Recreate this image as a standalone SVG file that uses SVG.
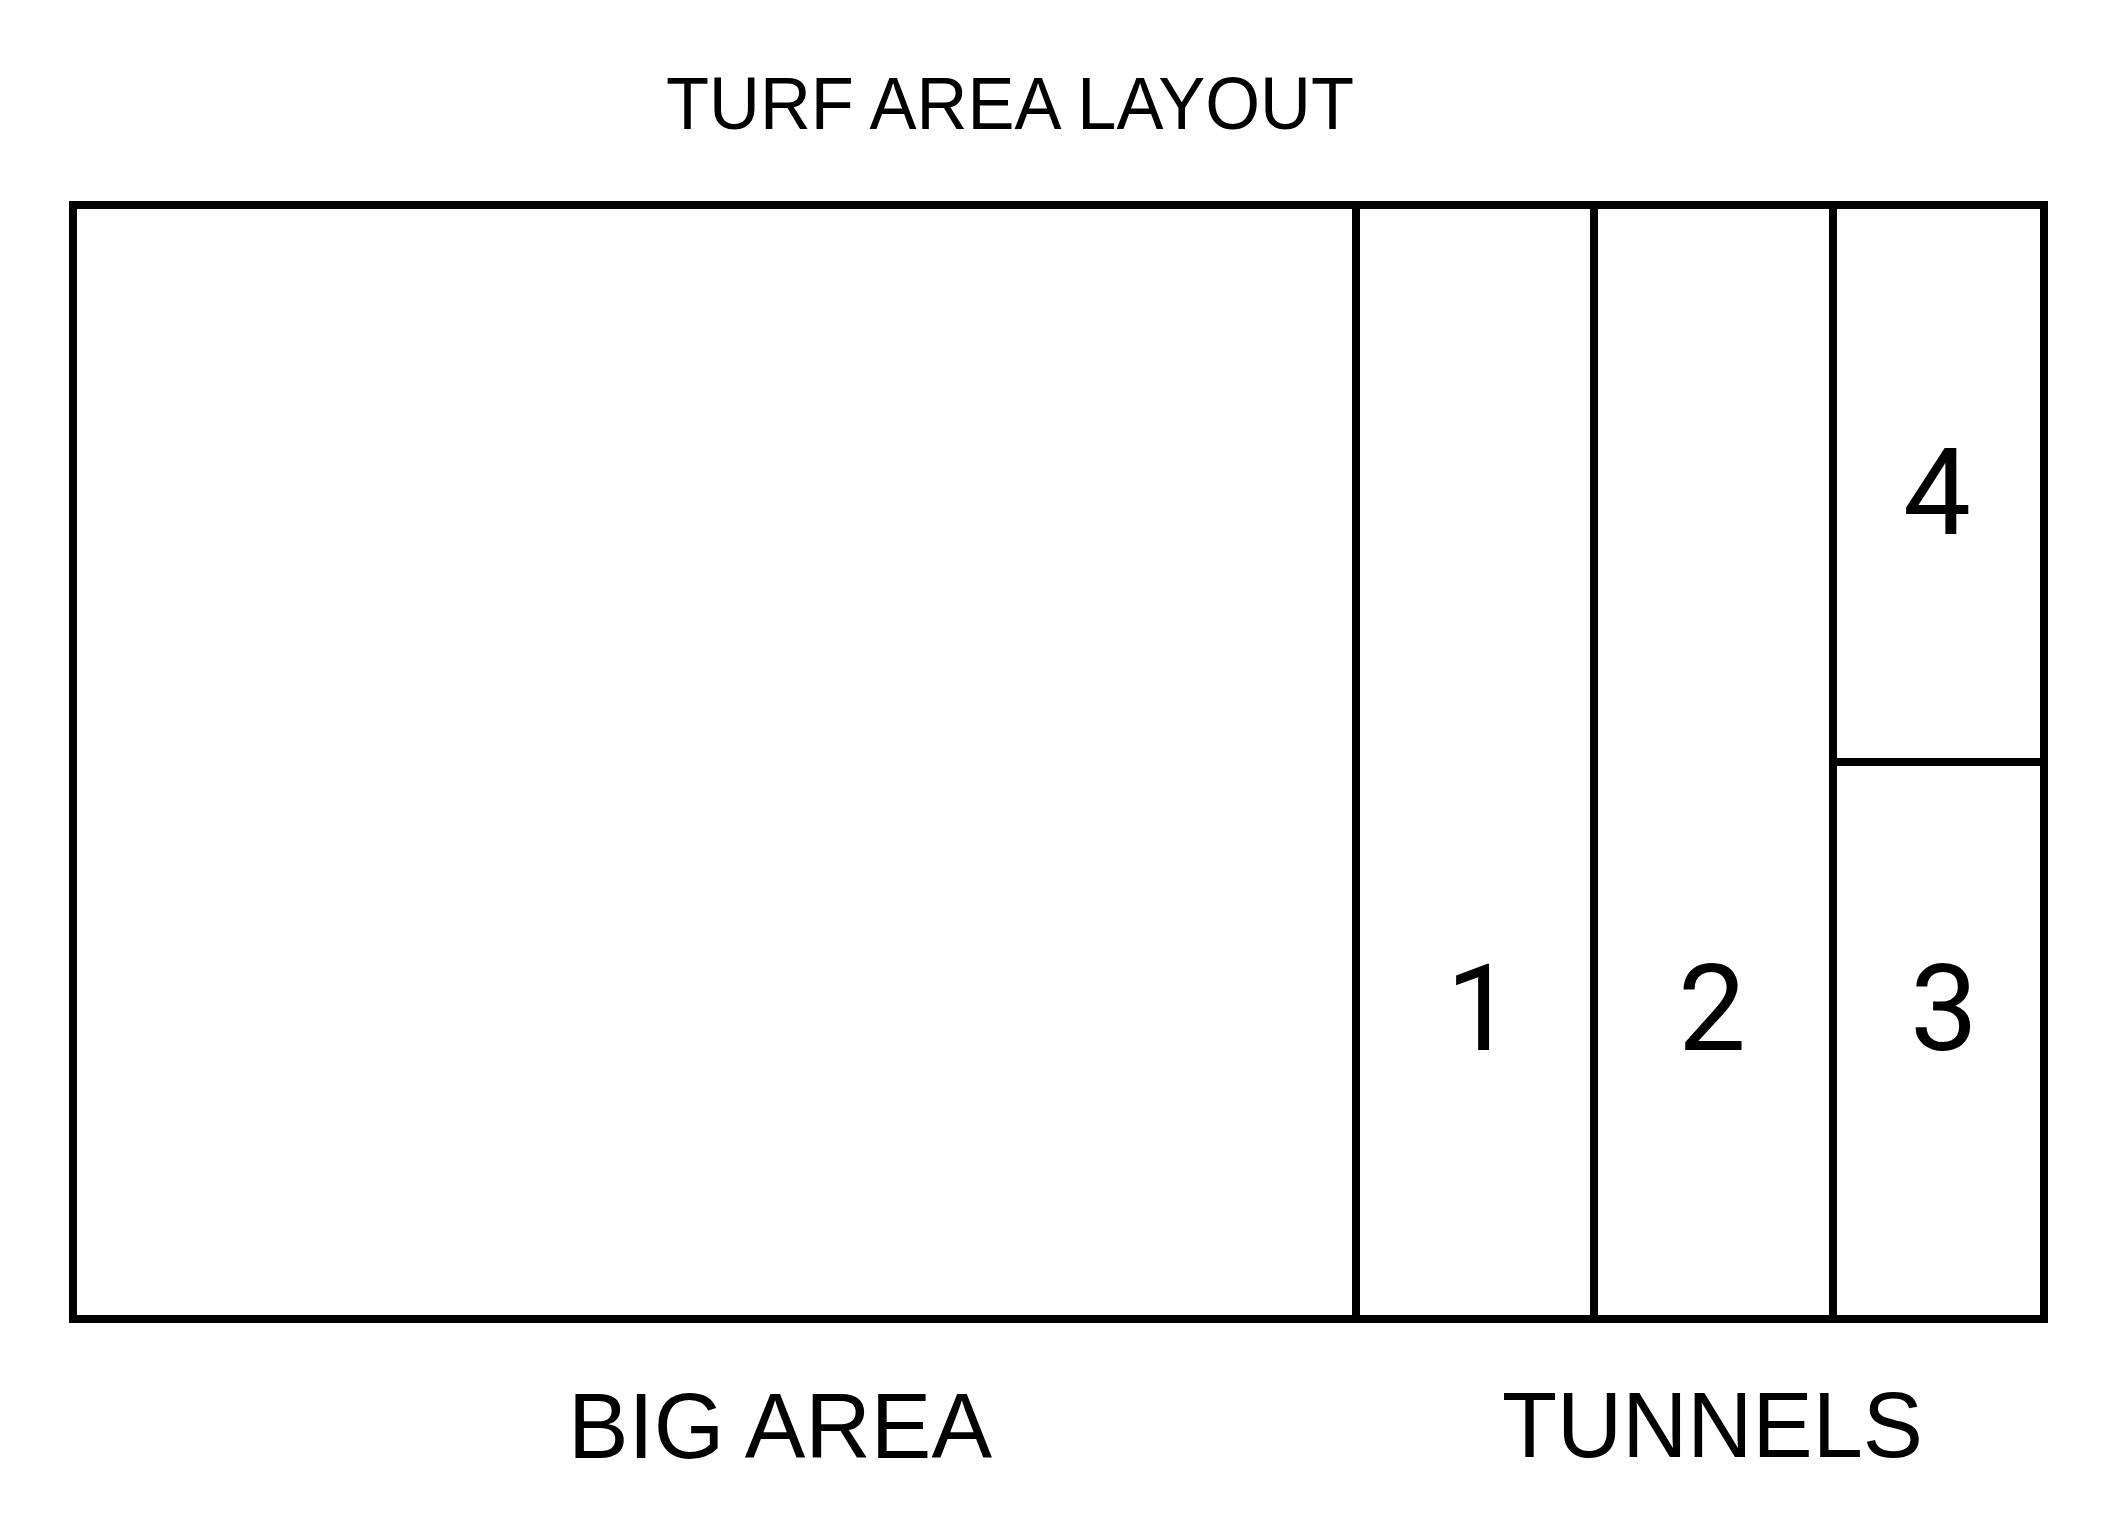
<svg xmlns="http://www.w3.org/2000/svg" width="2120" height="1532" viewBox="0 0 2120 1532">
<style>
.ln{stroke:#000;stroke-width:8;fill:none;stroke-linecap:square}
.t{font-family:"Liberation Sans",Arial,Helvetica,sans-serif;fill:#000}
.num{font-family:Roboto,"Liberation Sans",Arial,sans-serif;font-size:121px;text-anchor:middle;fill:#000}
</style>
<rect width="2120" height="1532" fill="#fff"/>
<g id="title"><text class="t" x="666" y="129" font-size="75" textLength="688" lengthAdjust="spacingAndGlyphs">TURF AREA LAYOUT</text></g>
<g id="layout">
<rect class="ln" x="73" y="205" width="1971" height="1114"/>
</g>
<g id="connectors">
<line class="ln" x1="1356" y1="205" x2="1356" y2="1319"/>
<line class="ln" x1="1594" y1="205" x2="1594" y2="1319"/>
<line class="ln" x1="1833" y1="205" x2="1833" y2="1319"/>
<line class="ln" x1="1833" y1="762" x2="2044" y2="762"/>
</g>
<g id="big-area"><text class="t" x="568" y="1458" font-size="93" textLength="424" lengthAdjust="spacingAndGlyphs">BIG AREA</text></g>
<g id="tunnels"><text class="t" x="1502" y="1457" font-size="93" textLength="421" lengthAdjust="spacingAndGlyphs">TUNNELS</text></g>
<g id="tunnel-1"><text class="num" x="1480" y="1050">1</text></g>
<g id="tunnel-2"><text class="num" x="1712" y="1050">2</text></g>
<g id="tunnel-3"><text class="num" x="1944" y="1050">3</text></g>
<g id="tunnel-4"><text class="num" x="1937" y="534">4</text></g>
</svg>
